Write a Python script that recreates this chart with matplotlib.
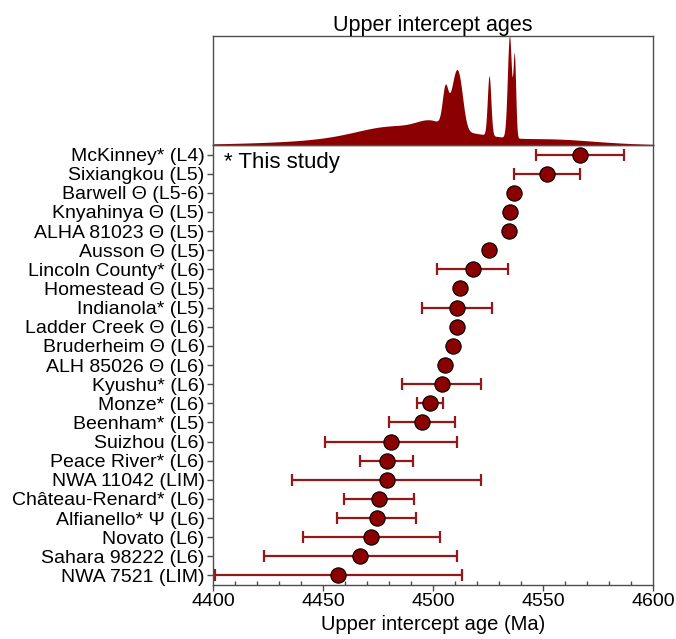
import numpy as np
import matplotlib
matplotlib.use("Agg")
import matplotlib.pyplot as plt
from matplotlib.ticker import MultipleLocator

plt.rcParams['font.family'] = ['Liberation Sans', 'DejaVu Sans']

names = ["McKinney* (L4)", "Sixiangkou (L5)", "Barwell Θ (L5-6)", "Knyahinya Θ (L5)",
         "ALHA 81023 Θ (L5)", "Ausson Θ (L5)", "Lincoln County* (L6)", "Homestead Θ (L5)",
         "Indianola* (L5)", "Ladder Creek Θ (L6)", "Bruderheim Θ (L6)", "ALH 85026 Θ (L6)",
         "Kyushu* (L6)", "Monze* (L6)", "Beenham* (L5)", "Suizhou (L6)", "Peace River* (L6)",
         "NWA 11042 (LIM)", "Château-Renard* (L6)", "Alfianello* Ψ (L6)", "Novato (L6)",
         "Sahara 98222 (L6)", "NWA 7521 (LIM)"]
ages = [4567, 4552, 4537, 4535, 4534.5, 4525.5, 4518, 4512.4, 4511, 4511, 4509, 4505.5,
        4504, 4498.6, 4495, 4481, 4479, 4479, 4475.5, 4474.4, 4472, 4467, 4457]
errs = [20, 15, 0.6, 0.9, 0.9, 0.8, 16, 1.8, 16, 1.8, 1.8, 1.3,
        18, 6, 15, 30, 12, 43, 16, 18, 31, 44, 56]

xmin, xmax = 4400, 4600
red = '#8B0000'
spine_c = '#4d4d4d'

fig = plt.figure(figsize=(6.76, 6.39), dpi=100)
ax = fig.add_axes([213/676, 54/639, 440/676, 440/639])
axt = fig.add_axes([213/676, 494/639, 440/676, 109/639])

# density (sum of normal distributions)
grid = np.linspace(xmin, xmax, 8001)
a = np.array(ages)[:, None]
s = np.array(errs)[:, None]
dens = (np.exp(-0.5 * ((grid[None, :] - a) / s) ** 2) / (s * np.sqrt(2 * np.pi))).sum(axis=0)
axt.fill_between(grid, 0, dens, color=red, lw=0)
axt.set_xlim(xmin, xmax)
axt.set_ylim(0, dens.max())
axt.set_xticks([])
axt.set_yticks([])
for sp in axt.spines.values():
    sp.set_color(spine_c)
    sp.set_linewidth(1.0)
axt.set_title("Upper intercept ages", fontsize=15.5, pad=3)

# main plot
y = np.arange(len(names))
ax.errorbar(ages, y, xerr=errs, fmt='none', ecolor='#951818', elinewidth=1.6,
            capsize=4.5, capthick=1.6, zorder=2)
ax.plot(ages, y, 'o', ms=11, mfc=red, mec='black', mew=0.8, zorder=3, ls='none')
ax.set_xlim(xmin, xmax)
ax.set_ylim(len(names) - 0.5, -0.5)
ax.set_yticks(y)
ax.set_yticklabels(names, fontsize=14)
ax.xaxis.set_major_locator(MultipleLocator(50))
ax.xaxis.set_minor_locator(MultipleLocator(10))
ax.tick_params(axis='x', which='major', direction='out', length=4, width=1, color=spine_c,
               labelsize=14, pad=2)
ax.tick_params(axis='x', which='minor', direction='in', length=3, width=1, color=spine_c)
ax.tick_params(axis='y', which='major', direction='out', length=4, width=1, color=spine_c, pad=2)
for sp in ax.spines.values():
    sp.set_color(spine_c)
    sp.set_linewidth(1.0)
ax.set_xlabel("Upper intercept age (Ma)", fontsize=14.5, labelpad=3)
ax.text(0.025, 0.983, "* This study", transform=ax.transAxes, fontsize=16, va='top', ha='left')

fig.savefig("out.png", dpi=100)
